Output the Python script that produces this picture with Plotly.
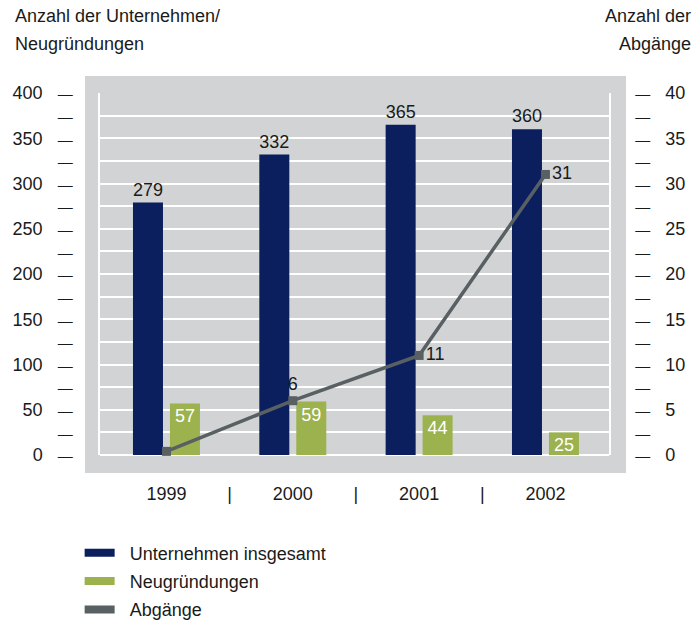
import plotly.graph_objects as go

# ---- data ----
years = ["1999", "2000", "2001", "2002"]
unternehmen = [279, 332, 365, 360]
neugruendungen = [57, 59, 44, 25]
abgaenge = [0.4, 6, 11, 31]
abgaenge_labels = ["", "6", "11", "31"]
left_ticks = list(range(0, 401, 25))
right_ticks = [v / 10 for v in left_ticks]
series_names = ["Unternehmen insgesamt", "Neugründungen", "Abgänge"]

# ---- style ----
NAVY = "#0b1f5f"
GREEN = "#9cb24e"
LINE = "#586064"
BG = "#d1d3d4"
TXT = "#1a1a1a"
FONT = "Liberation Sans"
FS = 18
DASH = "<span style='font-size:15px'>—</span>"
NB = "\u00a0"

idx = list(range(len(years)))

fig = go.Figure()
fig.add_trace(go.Bar(
    x=idx, y=unternehmen, width=0.2375, offset=-0.265,
    marker=dict(color=NAVY, line=dict(width=0)),
    text=[str(v) for v in unternehmen], textposition="outside",
    textfont=dict(color=TXT, size=FS, family=FONT),
    cliponaxis=False, constraintext="none", showlegend=False,
    name=series_names[0],
))
fig.add_trace(go.Bar(
    x=idx, y=neugruendungen, width=0.2375, offset=0.0277,
    marker=dict(color=GREEN, line=dict(width=0)),
    text=[str(v) for v in neugruendungen], textposition="inside",
    insidetextanchor="end",
    textfont=dict(color="white", size=FS, family=FONT),
    constraintext="none", showlegend=False,
    name=series_names[1],
))
fig.add_trace(go.Scatter(
    x=idx, y=abgaenge, yaxis="y2", mode="lines+markers+text",
    line=dict(color=LINE, width=3.5),
    marker=dict(symbol="square", size=9, color=LINE),
    text=abgaenge_labels,
    textposition=["top center", "top center", "middle right", "middle right"],
    textfont=dict(color=TXT, size=FS, family=FONT),
    cliponaxis=False, showlegend=False,
    name=series_names[2],
))

# legend entries (wide swatches)
for nm, col in zip(series_names, [NAVY, GREEN, LINE]):
    fig.add_trace(go.Scatter(
        x=[None], y=[None], mode="lines", name=NB + NB + nm,
        line=dict(color=col, width=8), showlegend=True, legendgroup=nm,
    ))

left_text = [(f"{v}{NB}{NB}{NB}{DASH}" if v % 50 == 0 else DASH) for v in left_ticks]
right_text = [(f"{DASH}{NB}{NB}{NB}{v:g}" if v % 5 == 0 else DASH) for v in right_ticks]

xt_vals, xt_text = [], []
for i, y in enumerate(years):
    xt_vals.append(i)
    xt_text.append(y)
    if i < len(years) - 1:
        xt_vals.append(i + 0.5)
        xt_text.append("|")

fig.update_layout(
    width=695, height=621,
    margin=dict(l=100, r=86, t=93, b=166, autoexpand=False),
    paper_bgcolor="white", plot_bgcolor=BG,
    font=dict(family=FONT, size=FS, color=TXT),
    barmode="overlay",
    xaxis=dict(
        range=[-0.526, 3.503], tickvals=xt_vals, ticktext=xt_text,
        showgrid=False, zeroline=False, showline=False, ticks="",
        ticklabelstandoff=26, automargin=False,
    ),
    yaxis=dict(
        range=[0, 400], tickvals=left_ticks, ticktext=left_text,
        showgrid=True, gridcolor="white", gridwidth=1.5,
        zeroline=True, zerolinecolor="white", zerolinewidth=1.5,
        showline=True, linecolor="white", linewidth=1.5,
        ticks="", ticklabelstandoff=22, automargin=False,
    ),
    yaxis2=dict(
        range=[0, 40], tickvals=right_ticks, ticktext=right_text,
        overlaying="y", side="right", showgrid=False, zeroline=False,
        showline=True, linecolor="white", linewidth=1.5,
        ticks="", ticklabelstandoff=21, automargin=False,
    ),
    legend=dict(
        x=-0.04, y=-0.2195, xanchor="left", yanchor="top",
        font=dict(size=FS, family=FONT, color=TXT),
        bgcolor="rgba(0,0,0,0)", itemwidth=30, tracegroupgap=2,
    ),
    shapes=[dict(
        type="rect", xref="paper", yref="paper",
        x0=-0.0295, x1=1.0334, y0=-0.0497, y1=1.047,
        fillcolor=BG, line=dict(width=0), layer="below",
    )],
    annotations=[
        dict(text="Anzahl der Unternehmen/", xref="paper", yref="paper",
             x=-0.17, y=1.2127, xanchor="left", yanchor="middle", showarrow=False),
        dict(text="Neugründungen", xref="paper", yref="paper",
             x=-0.17, y=1.1354, xanchor="left", yanchor="middle", showarrow=False),
        dict(text="Anzahl der", xref="paper", yref="paper",
             x=1.165, y=1.2127, xanchor="right", yanchor="middle", showarrow=False),
        dict(text="Abgänge", xref="paper", yref="paper",
             x=1.165, y=1.1354, xanchor="right", yanchor="middle", showarrow=False),
    ],
)

fig.write_html(
    "out.html",
    config={"displayModeBar": False},
    post_script="document.body.style.margin='0';document.body.style.overflow='hidden';",
)
